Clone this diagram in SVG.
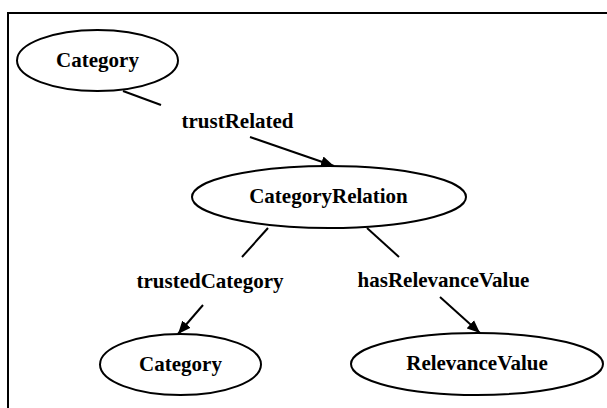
<svg xmlns="http://www.w3.org/2000/svg" width="607" height="408" viewBox="0 0 607 408">
<defs>
<style>
.n{fill:#fff;stroke:#000;stroke-width:2}
.t{font-family:"Liberation Serif","Times New Roman",serif;font-weight:bold;font-size:21px;text-anchor:middle;fill:#000}
.e{stroke:#000;stroke-width:2;fill:none}
</style>
<marker id="ah" markerUnits="userSpaceOnUse" markerWidth="14" markerHeight="12" refX="13" refY="6" orient="auto">
<path d="M0,0.5 L13,6 L0,11.5 z" fill="#000"/>
</marker>
</defs>
<rect width="607" height="408" fill="#fff"/>
<path d="M8,420 L8,13 L620,13" fill="none" stroke="#000" stroke-width="2"/>
<g id="connectors">
<line class="e" x1="123" y1="91" x2="161" y2="105"/>
<text class="t" x="237.5" y="128">trustRelated</text>
<line class="e" x1="250" y1="137" x2="334" y2="166" marker-end="url(#ah)"/>
<line class="e" x1="268" y1="228" x2="242" y2="257"/>
<text class="t" x="210" y="288">trustedCategory</text>
<line class="e" x1="203" y1="305" x2="178" y2="334" marker-end="url(#ah)"/>
<line class="e" x1="367" y1="228" x2="399" y2="257"/>
<text class="t" x="443.5" y="287">hasRelevanceValue</text>
<line class="e" x1="440" y1="297" x2="480" y2="333" marker-end="url(#ah)"/>
</g>
<g id="category1">
<ellipse class="n" cx="97.5" cy="60.5" rx="80.5" ry="30.5"/>
<text class="t" x="97.5" y="67">Category</text>
</g>
<g id="categoryRelation">
<ellipse class="n" cx="329" cy="197" rx="137" ry="31"/>
<text class="t" x="328.5" y="203">CategoryRelation</text>
</g>
<g id="category2">
<ellipse class="n" cx="180.5" cy="364.5" rx="80.5" ry="30.5"/>
<text class="t" x="180.5" y="371">Category</text>
</g>
<g id="relevanceValue">
<ellipse class="n" cx="477" cy="364" rx="126" ry="31"/>
<text class="t" x="477" y="370">RelevanceValue</text>
</g>
</svg>
